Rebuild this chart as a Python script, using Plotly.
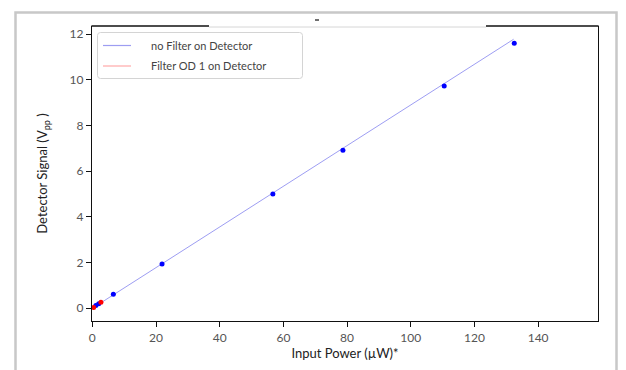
import plotly.graph_objects as go

# ---- data ----
nofilter_x = [1.1, 2.0, 6.6, 21.9, 56.7, 78.7, 110.5, 132.5]
nofilter_y = [0.12, 0.20, 0.61, 1.94, 5.00, 6.91, 9.72, 11.60]
od1_x = [0.4, 2.7]
od1_y = [0.04, 0.26]
fit_nofilter_x = [0.0, 132.3]
fit_nofilter_y = [0.0, 11.77]
fit_od1_x = [0.0, 2.7]
fit_od1_y = [0.0, 0.26]

x_ticks = [0, 20, 40, 60, 80, 100, 120, 140]
y_ticks = [0, 2, 4, 6, 8, 10, 12]
legend_names = ["no Filter on Detector", "Filter OD 1 on Detector"]

# page offset (browser body margin) compensated: figure drawn 8px smaller
OFF = 8
W, H = 626 - OFF, 370 - OFF
# plot area in page pixels: x 92..598, y 26..321
PL, PR, PT, PB = 92, 598, 26, 321
L, T = PL - OFF, PT - OFF
R = W - (PR - OFF)
B = H - (PB - OFF)
PW, PH = PR - PL, PB - PT


def px(x):
    return (x - PL) / PW


def py(y):
    return (PB - y) / PH


FONT = "Lato"
BLUE_LINE = "rgba(60,60,230,0.5)"
RED_LINE = "rgba(255,60,60,0.45)"

fig = go.Figure()
fig.add_trace(go.Scatter(x=fit_nofilter_x, y=fit_nofilter_y, mode="lines",
                         line=dict(color=BLUE_LINE, width=1), showlegend=False,
                         cliponaxis=False))
fig.add_trace(go.Scatter(x=fit_od1_x, y=fit_od1_y, mode="lines",
                         line=dict(color=RED_LINE, width=1), showlegend=False,
                         cliponaxis=False))
fig.add_trace(go.Scatter(x=nofilter_x, y=nofilter_y, mode="markers",
                         marker=dict(color="#0000ff", size=5), showlegend=False,
                         cliponaxis=False))
fig.add_trace(go.Scatter(x=od1_x, y=od1_y, mode="markers",
                         marker=dict(color="#ff0000", size=5), showlegend=False,
                         cliponaxis=False))

shapes = []
# outer grey frame
shapes.append(dict(type="rect", xref="paper", yref="paper",
                   x0=px(15.5), x1=px(616.5), y0=py(12.5), y1=py(380),
                   line=dict(color="#c8c8c8", width=2.5), layer="above"))
# top axis line pieces
shapes.append(dict(type="line", xref="paper", yref="paper",
                   x0=px(91.4), x1=px(209), y0=py(26), y1=py(26),
                   line=dict(color="#111111", width=1.3)))
shapes.append(dict(type="line", xref="paper", yref="paper",
                   x0=px(209), x1=px(486), y0=py(27), y1=py(27),
                   line=dict(color="#d6d6d6", width=1)))
shapes.append(dict(type="line", xref="paper", yref="paper",
                   x0=px(486), x1=px(598.6), y0=py(26), y1=py(26),
                   line=dict(color="#111111", width=1.3)))
# small dash above top
shapes.append(dict(type="line", xref="paper", yref="paper",
                   x0=px(315), x1=px(319), y0=py(20), y1=py(20),
                   line=dict(color="#222222", width=1.3)))
# legend box
lx0, lx1, ly0, ly1, r = 97.5, 302.5, 32.5, 78.5, 3
path = (f"M {px(lx0 + r)},{py(ly0)} L {px(lx1 - r)},{py(ly0)} "
        f"Q {px(lx1)},{py(ly0)} {px(lx1)},{py(ly0 + r)} "
        f"L {px(lx1)},{py(ly1 - r)} Q {px(lx1)},{py(ly1)} {px(lx1 - r)},{py(ly1)} "
        f"L {px(lx0 + r)},{py(ly1)} Q {px(lx0)},{py(ly1)} {px(lx0)},{py(ly1 - r)} "
        f"L {px(lx0)},{py(ly0 + r)} Q {px(lx0)},{py(ly0)} {px(lx0 + r)},{py(ly0)} Z")
shapes.append(dict(type="path", xref="paper", yref="paper", path=path,
                   line=dict(color="#d4d4d4", width=1), fillcolor="rgba(255,255,255,0.9)"))
legend_colors = [BLUE_LINE, RED_LINE]
legend_rows = [45.5, 66.0]
annotations = []
for name, col, yy in zip(legend_names, legend_colors, legend_rows):
    shapes.append(dict(type="line", xref="paper", yref="paper",
                       x0=px(103), x1=px(131), y0=py(yy), y1=py(yy),
                       line=dict(color=col, width=1.2)))
    annotations.append(dict(xref="paper", yref="paper", x=px(149), y=py(yy),
                            text=name, showarrow=False, xanchor="left", yanchor="middle",
                            font=dict(family=FONT, size=11, color="#444444")))

fig.update_layout(
    width=W, height=H,
    margin=dict(l=L, r=R, t=T, b=B, pad=0, autoexpand=False),
    paper_bgcolor="white", plot_bgcolor="white",
    font=dict(family=FONT, color="#444444"),
    shapes=shapes, annotations=annotations,
    showlegend=False,
)
fig.update_xaxes(range=[-0.1, 158.8], tickvals=x_ticks, ticktext=[str(v) for v in x_ticks],
                 showgrid=False, zeroline=False, showline=True, linecolor="#111111",
                 linewidth=1.3, mirror=False, ticks="outside", ticklen=5,
                 tickcolor="#111111", tickfont=dict(family=FONT, size=12, color="#555555"),
                 automargin=False,
                 title=dict(text="Input Power (µW)*", standoff=5,
                            font=dict(family=FONT, size=13, color="#222222")))
fig.update_yaxes(range=[-0.556, 12.35], tickvals=y_ticks, ticktext=[str(v) for v in y_ticks],
                 showgrid=False, zeroline=False, showline=True, linecolor="#111111",
                 linewidth=1.3, mirror=True, ticks="outside", ticklen=5,
                 tickcolor="#111111", tickfont=dict(family=FONT, size=12, color="#555555"),
                 automargin=False,
                 title=dict(text="Detector Signal (V<sub>pp</sub> )", standoff=18,
                            font=dict(family=FONT, size=13, color="#222222")))

fig.write_html("out.html")
